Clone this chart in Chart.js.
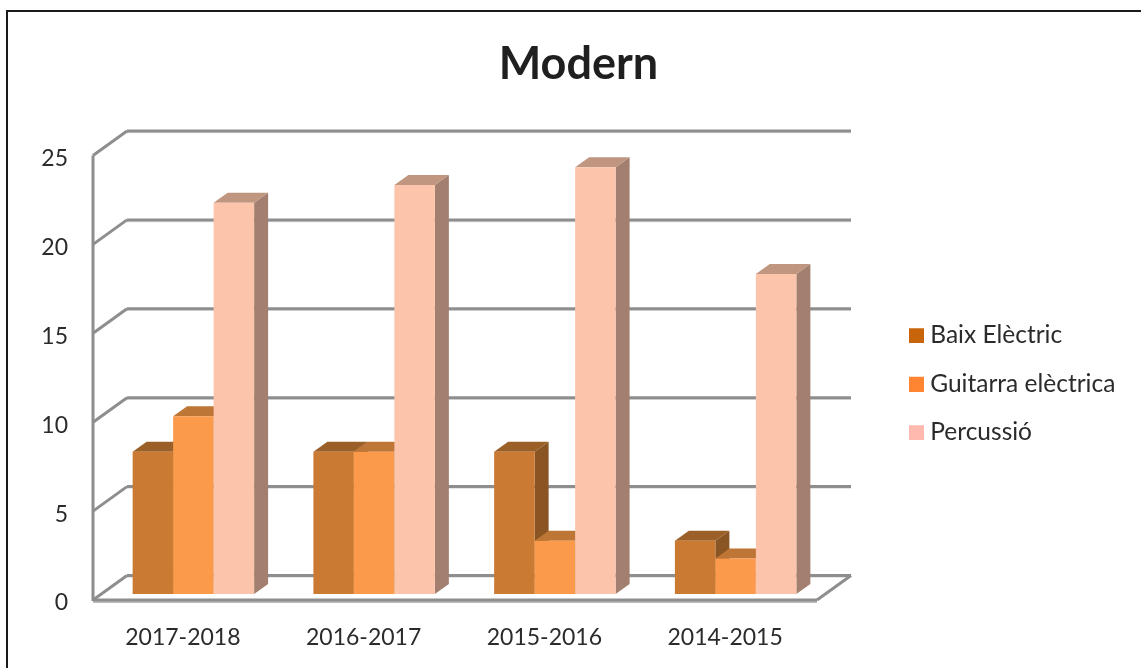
<!DOCTYPE html>
<html lang="ca">
<head>
    <meta charset="UTF-8">
    <title>Modern</title>
    <script src="https://cdn.jsdelivr.net/npm/chart.js"></script>
    <style>
        body { margin: 0; background-color: #ffffff; }
        #myChart { display: block; }
    </style>
</head>
<body>
    <canvas id="myChart" width="1141" height="668"></canvas>

    <script>
        const categories = ['2017-2018', '2016-2017', '2015-2016', '2014-2015'];
        const seriesNames = ['Baix Elèctric', 'Guitarra elèctrica', 'Percussió'];
        const baixValues = [8, 8, 8, 3];
        const guitarraValues = [10, 8, 3, 2];
        const percussioValues = [22, 23, 24, 18];
        const yTicks = [0, 5, 10, 15, 20, 25];

        const FONT = "Lato, 'Open Sans', sans-serif";
        const DEPTH_X = 14, DEPTH_Y = 10;

        // colours of the faces: front, top, side
        const faces = [
            { front: '#CB7A33', top: '#9B5F28', side: '#8A5523' },
            { front: '#FA9A4A', top: '#BE7636', side: '#A9652C' },
            { front: '#FCC4AB', top: '#C09680', side: '#A27F6E' }
        ];
        const legendColors = ['#C8640A', '#FF8533', '#FFB9AF'];

        // legend marker, drawn a little lower than the middle of its canvas
        function swatch(color) {
            const c = document.createElement('canvas');
            c.width = 15;
            c.height = 16;
            const g = c.getContext('2d');
            g.fillStyle = color;
            g.fillRect(0, 1, 15, 15);
            return c;
        }

        function line(ctx, x1, y1, x2, y2, color, width) {
            ctx.strokeStyle = color;
            ctx.lineWidth = width;
            ctx.beginPath();
            ctx.moveTo(x1, y1);
            ctx.lineTo(x2, y2);
            ctx.stroke();
        }

        function poly(ctx, pts, color) {
            ctx.fillStyle = color;
            ctx.beginPath();
            pts.forEach((p, i) => i ? ctx.lineTo(p[0], p[1]) : ctx.moveTo(p[0], p[1]));
            ctx.closePath();
            ctx.fill();
        }

        // outer frame, the walls and the floor of the 3D box
        const box3d = {
            id: 'box3d',
            beforeDraw(chart) {
                const ctx = chart.ctx;
                ctx.save();
                ctx.fillStyle = '#ffffff';
                ctx.fillRect(0, 0, chart.width, chart.height);
                ctx.restore();
            },
            beforeDatasetsDraw(chart) {
                const ctx = chart.ctx, y = chart.scales.y, a = chart.chartArea;
                const backL = a.left + 24, backR = a.right + 25, frontL = a.left - 10, frontR = a.right - 9;
                const grey = '#8E8E8E';
                ctx.save();
                yTicks.forEach(v => {
                    const p = y.getPixelForValue(v);
                    line(ctx, backL, p - 17, backR, p - 17, '#DDE0E0', 1.5);
                    line(ctx, backL, p - 18.5, backR, p - 18.5, grey, 3);
                    line(ctx, frontL, p + 6, backL, p - 18.5, grey, 3);
                });
                const bottom = y.getPixelForValue(0) + 6;
                line(ctx, frontL, y.getPixelForValue(25) + 6, frontL, bottom + 1, grey, 3);
                line(ctx, frontR, bottom, backR, bottom - 24.5, grey, 3);
                line(ctx, frontL, bottom + 2, frontR, bottom + 2, '#BDBDBD', 2);
                line(ctx, frontL, bottom, frontR, bottom, grey, 3);
                ctx.restore();
            },
            // the library paints the last dataset first, but here the left bar has to go under the right one
            beforeDatasetDraw() {
                return false;
            },
            afterDatasetsDraw(chart) {
                const ctx = chart.ctx;
                faces.forEach((f, i) => {
                    const meta = chart.getDatasetMeta(i);
                    ctx.save();
                    meta.data.forEach(bar => {
                        const p = bar.getProps(['x', 'y', 'base', 'width']);
                        const l = p.x - p.width / 2, r = p.x + p.width / 2;
                        poly(ctx, [[r, p.y], [r + DEPTH_X, p.y - DEPTH_Y], [r + DEPTH_X, p.base - DEPTH_Y], [r, p.base]], f.side);
                        poly(ctx, [[l, p.y], [l + DEPTH_X, p.y - DEPTH_Y], [r + DEPTH_X, p.y - DEPTH_Y], [r, p.y]], f.top);
                    });
                    ctx.restore();
                    meta.controller.draw();
                });
            },
            afterLayout(chart) {
                // title is centred on the frame, legend sits right of the plot
                chart.titleBlock.left = 16;
                chart.titleBlock.right = 1141;
                const lg = chart.legend;
                lg.left = 891;
                lg.right = 1141;
                lg.top = 299;
                lg.bottom = 668;
            },
            afterDraw(chart) {
                const ctx = chart.ctx;
                ctx.save();
                line(ctx, 7, 668, 7, 11, '#1A1A1A', 2);
                line(ctx, 6, 11, 1141, 11, '#1A1A1A', 2);
                ctx.restore();
            }
        };

        new Chart(document.getElementById('myChart').getContext('2d'), {
            type: 'bar',
            data: {
                labels: categories,
                datasets: [baixValues, guitarraValues, percussioValues].map((values, i) => ({
                    label: seriesNames[i],
                    data: values,
                    backgroundColor: faces[i].front,
                    categoryPercentage: 0.672,
                    barPercentage: 1
                }))
            },
            options: {
                responsive: false,
                animation: false,
                layout: { padding: { left: 0, right: 315, top: 0, bottom: 0 } },
                plugins: {
                    title: {
                        display: true,
                        text: 'Modern',
                        color: '#1F1F1F',
                        font: { family: FONT, size: 45, weight: 'bold', lineHeight: 1.2 },
                        padding: { top: 37, bottom: 58.5 }
                    },
                    legend: {
                        position: 'chartArea',
                        align: 'start',
                        labels: {
                            color: '#2B2B2B',
                            font: { family: FONT, size: 24.5 },
                            padding: 24,
                            boxHeight: 15,
                            usePointStyle: true,
                            pointStyleWidth: 3,
                            generateLabels: () => seriesNames.map((name, i) => ({
                                text: name,
                                fontColor: '#2B2B2B',
                                pointStyle: swatch(legendColors[i]),
                                datasetIndex: i,
                                lineWidth: 0
                            }))
                        }
                    },
                    tooltip: { enabled: false }
                },
                scales: {
                    x: {
                        grid: { display: false, drawTicks: false },
                        border: { display: false },
                        ticks: {
                            color: '#2B2B2B',
                            font: { family: FONT, size: 23 },
                            padding: 30,
                            labelOffset: -10.5,
                            maxRotation: 0
                        },
                        afterFit(scale) { scale.height = 74; }
                    },
                    y: {
                        min: 0,
                        max: 25,
                        grid: { display: false, drawTicks: false },
                        border: { display: false },
                        afterBuildTicks(scale) { scale.ticks = yTicks.map(v => ({ value: v })); },
                        ticks: {
                            color: '#2B2B2B',
                            font: { family: FONT, size: 23 },
                            padding: 35,
                            labelOffset: 9
                        },
                        afterFit(scale) { scale.width = 103; }
                    }
                }
            },
            plugins: [box3d]
        });
    </script>
</body>
</html>
